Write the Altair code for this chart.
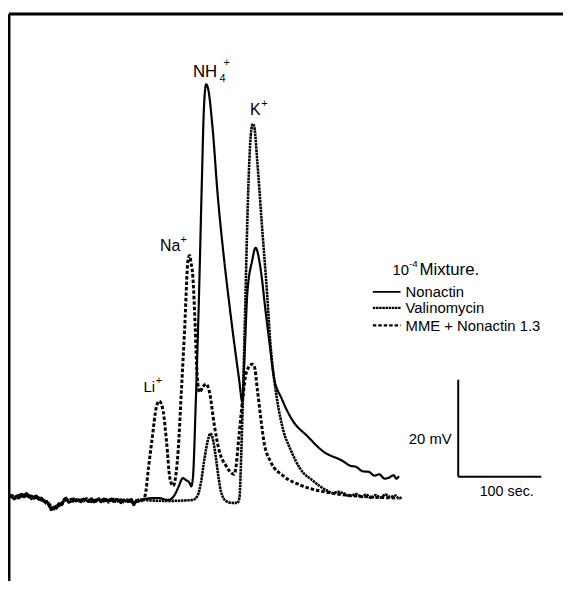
import altair as alt
import pandas as pd

# ---- data (time in s, signal in mV) ----
base_t = [1, 3, 6, 9, 12, 15, 18, 21, 24, 27, 30, 33, 36, 39, 42, 45, 48, 51, 54, 57,
          60, 63, 66, 69, 72, 75, 78, 81, 84, 87, 90, 93, 96, 99, 102, 105, 108, 111,
          114, 117, 120, 123, 126, 129, 132, 135, 138, 141, 144, 147, 150, 153, 156]
base_v = [1.2, 0.9, 0.4, 1.1, 0.6, 1.4, 0.8, 1.6, 0.7, 1.0, 0.5, 1.1, 0.3, 0.6, -0.2,
          -0.1, -0.9, -1.8, -1.2, -1.5, -0.6, -0.9, 0.2, 0.6, -0.3, -0.1, 0.5, 0.0, 0.3,
          -0.2, 0.4, 0.1, -0.1, 0.5, -0.3, 0.2, 0.3, -0.2, 0.4, 0.0, 0.1, 0.5, -0.2, 0.3,
          0.3, -0.4, 0.2, -0.1, -0.1, 0.4, -0.8, 0.1, -0.1]
base2_v = [0.8, 1.3, 0.7, 0.5, 1.2, 0.9, 1.3, 1.0, 1.2, 0.4, 0.9, 0.6, 0.7, 0.1, 0.2,
           -0.6, -0.4, -1.3, -1.7, -1.0, -1.1, -0.3, -0.2, 0.3, 0.1, 0.4, -0.2, 0.4, -0.1,
           0.3, -0.1, 0.5, 0.3, -0.2, 0.2, -0.1, 0.5, 0.2, -0.1, 0.4, -0.3, 0.2, 0.4, -0.2,
           0.0, 0.3, -0.3, 0.3, 0.2, -0.3, -0.4, -0.2, 0.3]

non_t = [161.8, 179.7, 191.6, 199.6, 203.5, 209.4, 213.0, 217.4, 219.3, 221.3, 224.9,
         228.5, 232.1, 234.4, 237.2, 239.2, 245.1, 251.1, 259.0, 265.0, 271.0, 276.9,
         280.8, 283.8, 286.8, 292.7, 296.7, 302.6, 308.6, 314.5, 318.6, 328.4, 342.4,
         358.2, 378.1, 401.9, 410.0, 418.0, 425.7, 433.0, 440.0, 445.4, 452.0, 457.3,
         462.9, 466.0, 469.2]
non_v = [0.4, 0.6, 0.2, 1.3, 2.7, 4.7, 4.3, 3.7, 3.0, 4.7, 21.0,
         41.4, 65.9, 80.2, 85.9, 85.3, 76.7, 63.2, 49.6, 40.8, 32.6, 25.1,
         20.4, 31.2, 42.8, 49.6, 52.2, 48.1, 39.4, 31.2, 25.7, 21.0, 16.3,
         13.5, 10.2, 8.2, 7.3, 7.0, 6.1, 6.0, 5.2, 5.5, 4.6, 4.8,
         5.3, 4.6, 5.1]

val_t = [161.8, 191.6, 221.3, 227.3, 230.9, 235.3, 239.2, 242.4, 245.1, 249.1, 252.3,
         255.0, 261.0, 267.8, 274.9, 277.3, 279.7, 282.1, 284.5, 286.8, 289.2, 291.6,
         293.4, 295.2, 298.8, 304.6, 310.6, 314.5, 318.6, 322.5, 330.5, 338.3, 350.2,
         366.2, 382.0, 390.0, 396.0, 402.2, 410.0, 417.7, 424.0, 429.6, 436.0, 441.0,
         447.4, 453.0, 459.3, 465.3, 469.0, 473.3]
val_v = [0.2, 0.0, 0.2, 1.2, 3.7, 8.8, 12.4, 13.9, 12.9, 8.8, 4.7,
         2.0, 0.0, -0.4, -0.4, 0.6, 10.8, 25.1, 41.4, 57.7, 70.0, 76.5,
         77.7, 77.1, 70.0, 56.3, 42.8, 32.6, 25.7, 21.0, 14.3, 10.8, 6.7,
         4.1, 2.2, 1.6, 1.9, 1.6, 1.0, 1.4, 0.8, 1.3, 0.6, 1.2,
         0.7, 1.3, 0.8, 1.1, 0.5, 0.8]

mme_t = [159.5, 163.9, 167.8, 171.8, 177.7, 180.9, 185.6, 189.6, 193.6, 197.5, 201.1,
         203.5, 207.4, 211.5, 215.4, 217.4, 219.0, 221.3, 224.1, 226.5, 229.3, 233.2,
         237.2, 241.3, 247.2, 253.2, 261.0, 270.9, 272.9, 276.5, 281.2, 286.0, 292.7,
         295.2, 298.8, 302.7, 306.8, 314.5, 330.5, 350.2, 370.2, 382.0, 405.8, 435.5,
         465.3]
mme_v = [0.0, 1.2, 6.7, 12.2, 19.6, 20.6, 18.4, 12.2, 4.7, 3.1, 5.7,
         10.2, 22.4, 35.9, 49.6, 50.6, 49.2, 46.1, 35.9, 25.7, 22.4, 23.5,
         24.1, 22.4, 15.5, 10.2, 7.3, 5.5, 6.7, 12.9, 21.0, 26.7, 28.2,
         27.8, 23.1, 17.5, 12.2, 8.2, 5.1, 3.3, 2.2, 1.8, 1.2, 0.8,
         0.6]

series_names = ["Nonactin", "Valinomycin", "MME + Nonactin 1.3"]
dash_range = [[1, 0], [2.5, 0.7], [3.5, 2]]
width_range = [2.2, 3.0, 2.3]
legend_width_range = [1.6, 2.2, 2.3]

ion_text = ["NH", "4", "+", "K", "+", "Na", "+", "Li", "+"]
ion_t = [221.3, 253.4, 258.0, 290.0, 303.5, 181.7, 206.5, 161.8, 176.5]
ion_v = [87.5, 86.4, 89.6, 79.5, 81.2, 51.6, 53.2, 22.4, 24.1]
ion_size = [17, 11, 11, 16, 11, 16, 11, 15, 11]

title_text = ["10", "-4", "Mixture."]
title_t = [461.4, 481.3, 494.0]
title_v = [46.5, 48.3, 46.5]
title_size = [15, 10, 17]

legend_line_t = [437.9, 471.2]
legend_line_v = [43.1, 39.8, 36.2]
legend_text_t = 477.2
legend_text_v = [42.0, 38.7, 35.1]

bar_t = [540.6, 640.6]
bar_v = [5.0, 25.0]
bar_labels = ["20 mV", "100 sec."]

X_MAX = 666.7
Y_MIN, Y_MAX = -16.5, 100.4

# ---- tables ----
rows = []
for name, ts, vs in [(series_names[0], base_t + non_t, base_v + non_v),
                     (series_names[1], base_t + val_t, base2_v + val_v),
                     (series_names[2], base_t + mme_t, base_v + mme_v)]:
    for i, (t, v) in enumerate(zip(ts, vs)):
        rows.append({"series": name, "t": t, "mV": v, "order": i})
df = pd.DataFrame(rows)

xs = alt.Scale(domain=[0, X_MAX], nice=False, zero=False)
ys = alt.Scale(domain=[Y_MIN, Y_MAX], nice=False, zero=False)
dash = alt.StrokeDash("series:N", scale=alt.Scale(domain=series_names, range=dash_range), legend=None)
sw = alt.StrokeWidth("series:N", scale=alt.Scale(domain=series_names, range=width_range), legend=None)

lines = alt.Chart(df).mark_line(color="black", interpolate="monotone").encode(
    x=alt.X("t:Q", scale=xs, axis=None),
    y=alt.Y("mV:Q", scale=ys, axis=None),
    detail="series:N",
    order="order:Q",
    strokeDash=dash,
    strokeWidth=sw,
)

frame_df = pd.DataFrame([
    {"t": 0, "t2": 0, "v": Y_MIN, "v2": Y_MAX},
    {"t": 0, "t2": X_MAX, "v": Y_MAX, "v2": Y_MAX},
])
frame = alt.Chart(frame_df).mark_rule(color="black", strokeWidth=3, clip=False).encode(
    x=alt.X("t:Q", scale=xs, axis=None), x2="t2:Q",
    y=alt.Y("v:Q", scale=ys, axis=None), y2="v2:Q",
)

bars_df = pd.DataFrame([
    {"t": bar_t[0], "t2": bar_t[0], "v": bar_v[0], "v2": bar_v[1]},
    {"t": bar_t[0], "t2": bar_t[1], "v": bar_v[0], "v2": bar_v[0]},
])
bars = alt.Chart(bars_df).mark_rule(color="black", strokeWidth=2).encode(
    x=alt.X("t:Q", scale=xs, axis=None), x2="t2:Q",
    y=alt.Y("v:Q", scale=ys, axis=None), y2="v2:Q",
)

bar_lab_df = pd.DataFrame([
    {"label": bar_labels[0], "t": bar_t[0] - 7.8, "v": 11.8},
    {"label": bar_labels[1], "t": 566.4, "v": 1.0},
])
bar_lab1 = alt.Chart(bar_lab_df.iloc[[0]]).mark_text(
    align="right", baseline="alphabetic", font="Liberation Sans", fontSize=15, color="black"
).encode(x=alt.X("t:Q", scale=xs, axis=None), y=alt.Y("v:Q", scale=ys, axis=None), text="label:N")
bar_lab2 = alt.Chart(bar_lab_df.iloc[[1]]).mark_text(
    align="left", baseline="alphabetic", font="Liberation Sans", fontSize=14.5, color="black"
).encode(x=alt.X("t:Q", scale=xs, axis=None), y=alt.Y("v:Q", scale=ys, axis=None), text="label:N")

lab_df = pd.DataFrame({"label": ion_text + title_text, "t": ion_t + title_t,
                       "v": ion_v + title_v, "size": ion_size + title_size})
labels = alt.Chart(lab_df).mark_text(
    align="left", baseline="alphabetic", font="Liberation Sans", color="black"
).encode(
    x=alt.X("t:Q", scale=xs, axis=None),
    y=alt.Y("v:Q", scale=ys, axis=None),
    text="label:N",
    size=alt.Size("size:Q", scale=None, legend=None),
)

leg_df = pd.DataFrame({"series": series_names,
                       "t": [legend_line_t[0]] * 3, "t2": [legend_line_t[1]] * 3,
                       "v": legend_line_v, "tt": [legend_text_t] * 3, "tv": legend_text_v,
                       "w": legend_width_range})
leg_lines = alt.Chart(leg_df).mark_rule(color="black").encode(
    x=alt.X("t:Q", scale=xs, axis=None), x2="t2:Q",
    y=alt.Y("v:Q", scale=ys, axis=None),
    strokeDash=dash,
    strokeWidth=alt.StrokeWidth("w:Q", scale=None, legend=None),
)
leg_text = alt.Chart(leg_df).mark_text(
    align="left", baseline="alphabetic", font="Liberation Sans", fontSize=15, color="black"
).encode(
    x=alt.X("tt:Q", scale=xs, axis=None),
    y=alt.Y("tv:Q", scale=ys, axis=None),
    text="series:N",
)

chart = alt.layer(frame, lines, bars, bar_lab1, bar_lab2, labels, leg_lines, leg_text).properties(
    width=560, height=573,
    padding={"left": 1, "top": 3, "right": 0, "bottom": 0},
    autosize="none",
    background="white",
).configure_view(stroke=None)

chart.save("out.html", embed_options={"renderer": "svg", "actions": False})
